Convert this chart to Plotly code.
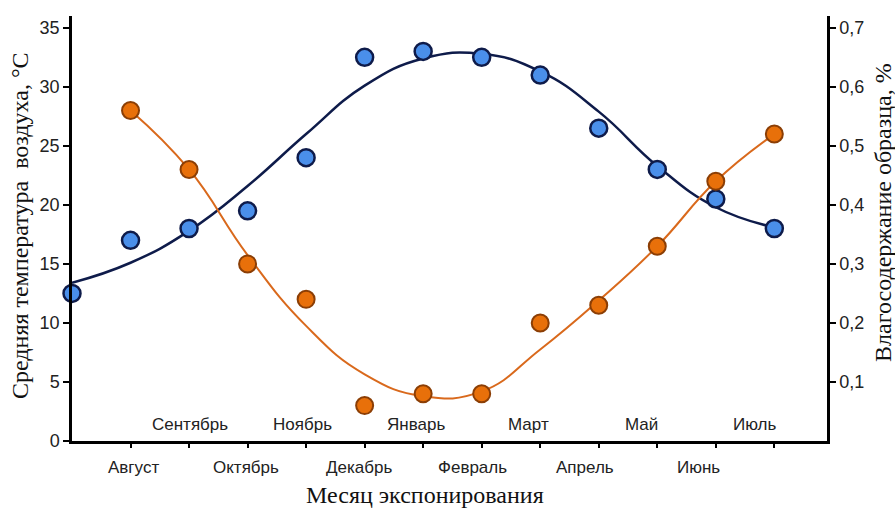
import plotly.graph_objects as go

# ---- data ----
months = ["Август", "Сентябрь", "Октябрь", "Ноябрь", "Декабрь", "Январь",
          "Февраль", "Март", "Апрель", "Май", "Июнь", "Июль"]
temp_x = [0, 1, 2, 3, 4, 5, 6, 7, 8, 9, 10, 11, 12]
temp_pts = [12.5, 17, 18, 19.5, 24, 32.5, 33, 32.5, 31, 26.5, 23, 20.5, 18]
temp_trend = [13.4, 15.1, 17.8, 21.6, 26.0, 30.1, 32.4, 32.8, 31.3, 27.9, 23.3, 19.8, 18.1]

moist_x = [1, 2, 3, 4, 5, 6, 7, 8, 9, 10, 11, 12]
moist_pts = [0.56, 0.46, 0.30, 0.24, 0.06, 0.08, 0.08, 0.20, 0.23, 0.33, 0.44, 0.52]
moist_trend = [0.56, 0.46, 0.315, 0.195, 0.113, 0.076, 0.084, 0.155, 0.238, 0.33, 0.44, 0.52]

left_ticks = [0, 5, 10, 15, 20, 25, 30, 35]
right_ticks = [0.1, 0.2, 0.3, 0.4, 0.5, 0.6, 0.7]
right_labels = ["0,1", "0,2", "0,3", "0,4", "0,5", "0,6", "0,7"]

BLUE_FILL = "#4A8FEA"
BLUE_LINE = "#0E1B4A"
ORANGE_FILL = "#E8700A"
ORANGE_EDGE = "#8B3E05"
ORANGE_LINE = "#D9691C"

W, H = 895, 509
pl, pr, pt, pb = 72, 68, 16, 68
pw, ph = W - pl - pr, H - pt - pb


def px_to_paper_x(px):
    return (px - pl) / pw


def px_to_paper_y(py):
    return (H - pb - py) / ph


fig = go.Figure()

fig.add_trace(go.Scatter(x=temp_x, y=temp_trend, mode="lines",
                         line=dict(color=BLUE_LINE, width=2.5, shape="spline", smoothing=1.3),
                         yaxis="y", hoverinfo="skip", showlegend=False))
fig.add_trace(go.Scatter(x=moist_x, y=moist_trend, mode="lines",
                         line=dict(color=ORANGE_LINE, width=2, shape="spline", smoothing=1.3),
                         yaxis="y2", hoverinfo="skip", showlegend=False))
fig.add_trace(go.Scatter(x=temp_x, y=temp_pts, mode="markers",
                         marker=dict(size=17, color=BLUE_FILL, line=dict(color=BLUE_LINE, width=2.5)),
                         yaxis="y", cliponaxis=False, showlegend=False))
fig.add_trace(go.Scatter(x=moist_x, y=moist_pts, mode="markers",
                         marker=dict(size=17, color=ORANGE_FILL, line=dict(color=ORANGE_EDGE, width=2)),
                         yaxis="y2", cliponaxis=False, showlegend=False))

XR = [0, 12.9]
axis_common = dict(showgrid=False, zeroline=False, linecolor="black", linewidth=2.5,
                   tickcolor="black", tickwidth=2)
inner_common = dict(showgrid=False, zeroline=False, tickcolor="black", tickwidth=2,
                    showline=False, showticklabels=False)

fig.update_layout(
    width=W, height=H,
    margin=dict(l=pl, r=pr, t=pt, b=pb),
    plot_bgcolor="white", paper_bgcolor="white",
    font=dict(family="Liberation Sans, Arial, sans-serif", size=16, color="#222"),
    xaxis=dict(range=XR, tickvals=list(range(1, 13)), showticklabels=False,
               ticks="outside", ticklen=4, showline=True, **axis_common),
    xaxis2=dict(range=XR, overlaying="x", tickvals=list(range(1, 13)),
                ticks="inside", ticklen=4, anchor="y", **inner_common),
    yaxis=dict(range=[0, 36], tickvals=left_ticks, ticks="outside", ticklen=6,
               showline=True, tickfont=dict(size=18), **axis_common),
    yaxis2=dict(range=[0, 0.72], overlaying="y", side="right", anchor="x",
                tickvals=right_ticks, ticktext=right_labels, ticks="outside", ticklen=6,
                showline=True, tickfont=dict(size=18), **axis_common),
    yaxis3=dict(range=[0, 36], overlaying="y", side="left", anchor="x",
                tickvals=left_ticks, ticks="inside", ticklen=6, **inner_common),
    yaxis4=dict(range=[0, 0.72], overlaying="y", side="right", anchor="x",
                tickvals=right_ticks, ticks="inside", ticklen=6, **inner_common),
)

annotations = []
for i, name in enumerate(months, start=1):
    below = (i % 2 == 1)
    annotations.append(dict(
        x=i, xref="x", y=0, yref="y",
        text=name, showarrow=False,
        xshift=4.5 - 2 * i,
        yshift=-26 if below else 17,
        font=dict(size=17, color="#222", family="Liberation Sans, Arial, sans-serif"),
        xanchor="center", yanchor="middle"))

serif = "Liberation Serif, Times New Roman, serif"
annotations.append(dict(text="Месяц экспонирования",
                        x=px_to_paper_x(425), xref="paper", y=px_to_paper_y(495), yref="paper",
                        xanchor="center", yanchor="middle",
                        showarrow=False, font=dict(family=serif, size=24, color="#111")))
annotations.append(dict(text="Средняя температура  воздуха, °С",
                        x=px_to_paper_x(20), xref="paper", y=px_to_paper_y(226), yref="paper",
                        xanchor="center", yanchor="middle",
                        textangle=-90, showarrow=False, font=dict(family=serif, size=24, color="#111")))
annotations.append(dict(text="Влагосодержание образца, %",
                        x=px_to_paper_x(883), xref="paper", y=px_to_paper_y(213), yref="paper",
                        xanchor="center", yanchor="middle",
                        textangle=-90, showarrow=False, font=dict(family=serif, size=24, color="#111")))
fig.update_layout(annotations=annotations)

fig.write_html("out.html",
               config={"displayModeBar": False},
               post_script="document.body.style.margin='0px';document.body.style.overflow='hidden';")
